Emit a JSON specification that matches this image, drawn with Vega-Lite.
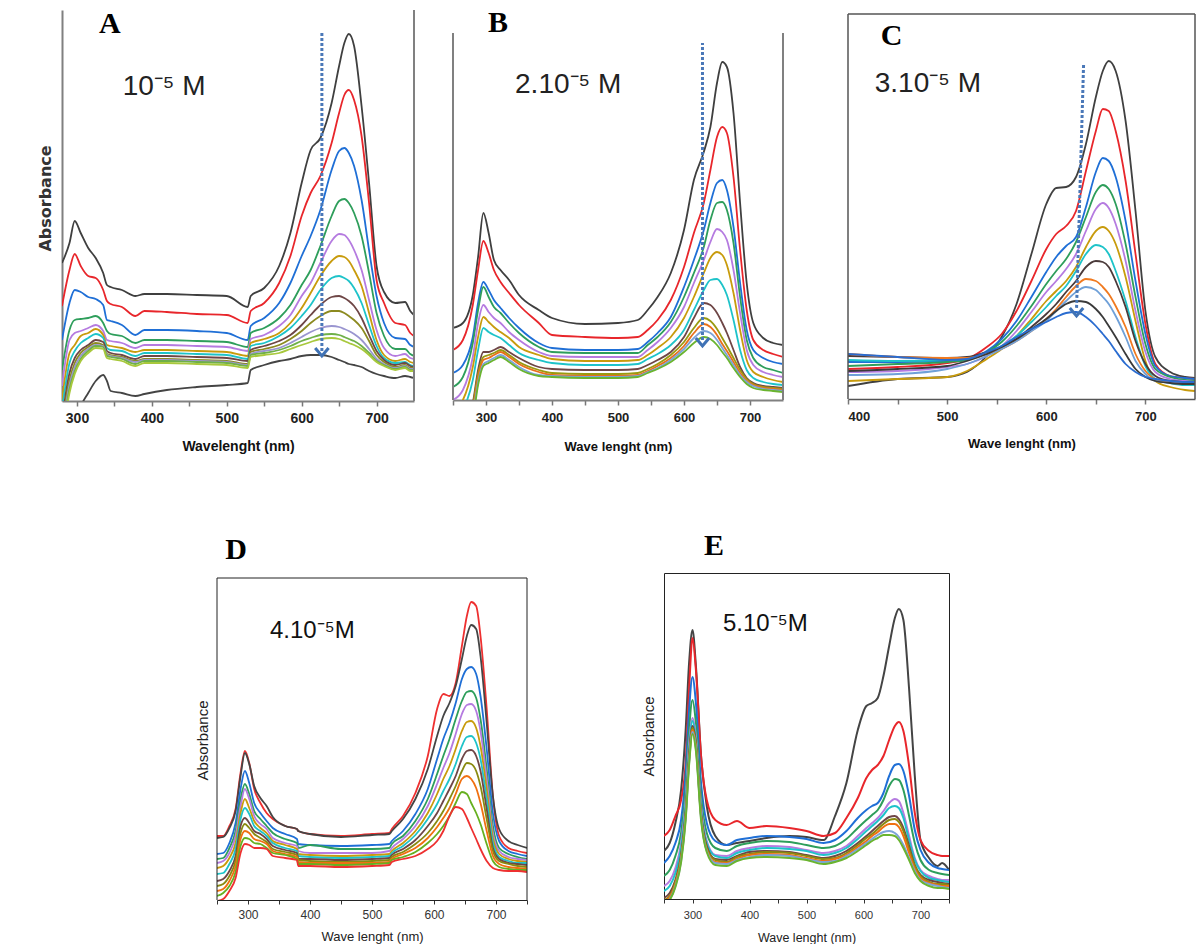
{
"$schema": "https://vega.github.io/schema/vega-lite/v6.json",
"padding": {"left": 0, "top": 7, "right": 0, "bottom": 0},
"background": "white",
"spacing": 563,
"bounds": "flush",
"resolve": {"scale": {"color": "independent"}},
"config": {"view": {"stroke": null}, "axis": {"grid": false, "labelOverlap": false}},
"datasets": {
"A": [
{"w":280,"a":1.38,"b":0.95,"c":0.61,"d":0.31,"e":0.15,"f":0.01,"g":-0.09,"h":-0.19,"i":-0.25,"j":-0.3,"k":-0.35,"l":-0.4,"m":-0.6},
{"w":290,"a":1.58,"b":1.31,"c":0.98,"d":0.71,"e":0.61,"f":0.48,"g":0.38,"h":0.28,"i":0.21,"j":0.16,"k":0.12,"l":0.08,"m":-0.4},
{"w":297,"a":1.80,"b":1.47,"c":1.11,"d":0.81,"e":0.68,"f":0.56,"g":0.50,"h":0.43,"i":0.38,"j":0.34,"k":0.30,"l":0.27,"m":-0.2},
{"w":305,"a":1.68,"b":1.35,"c":1.09,"d":0.82,"e":0.70,"f":0.65,"g":0.58,"h":0.51,"i":0.48,"j":0.45,"k":0.42,"l":0.40,"m":-0.05},
{"w":315,"a":1.53,"b":1.25,"c":1.04,"d":0.83,"e":0.73,"f":0.68,"g":0.63,"h":0.56,"i":0.54,"j":0.52,"k":0.50,"l":0.48,"m":0.08},
{"w":325,"a":1.43,"b":1.23,"c":1.02,"d":0.85,"e":0.76,"f":0.72,"g":0.67,"h":0.61,"i":0.58,"j":0.56,"k":0.55,"l":0.53,"m":0.20},
{"w":335,"a":1.28,"b":1.11,"c":0.96,"d":0.78,"e":0.70,"f":0.66,"g":0.63,"h":0.59,"i":0.56,"j":0.55,"k":0.54,"l":0.52,"m":0.26},
{"w":340,"a":1.16,"b":1.00,"c":0.81,"d":0.70,"e":0.61,"f":0.56,"g":0.53,"h":0.50,"i":0.47,"j":0.46,"k":0.45,"l":0.43,"m":0.20},
{"w":345,"a":1.14,"b":0.97,"c":0.80,"d":0.67,"e":0.60,"f":0.55,"g":0.51,"h":0.48,"i":0.46,"j":0.45,"k":0.44,"l":0.42,"m":0.10},
{"w":360,"a":1.11,"b":0.94,"c":0.76,"d":0.65,"e":0.58,"f":0.53,"g":0.50,"h":0.46,"i":0.44,"j":0.43,"k":0.42,"l":0.40,"m":0.08},
{"w":378,"a":1.05,"b":0.85,"c":0.66,"d":0.58,"e":0.53,"f":0.49,"g":0.45,"h":0.42,"i":0.40,"j":0.39,"k":0.37,"l":0.35,"m":0.05},
{"w":390,"a":1.07,"b":0.90,"c":0.71,"d":0.61,"e":0.56,"f":0.51,"g":0.48,"h":0.45,"i":0.42,"j":0.41,"k":0.40,"l":0.38,"m":0.07},
{"w":420,"a":1.07,"b":0.89,"c":0.71,"d":0.61,"e":0.56,"f":0.51,"g":0.48,"h":0.45,"i":0.42,"j":0.41,"k":0.40,"l":0.38,"m":0.11},
{"w":460,"a":1.06,"b":0.87,"c":0.70,"d":0.60,"e":0.55,"f":0.50,"g":0.47,"h":0.44,"i":0.41,"j":0.40,"k":0.39,"l":0.37,"m":0.14},
{"w":500,"a":1.05,"b":0.86,"c":0.68,"d":0.59,"e":0.54,"f":0.49,"g":0.46,"h":0.43,"i":0.40,"j":0.39,"k":0.38,"l":0.36,"m":0.16},
{"w":528,"a":0.94,"b":0.78,"c":0.61,"d":0.54,"e":0.50,"f":0.45,"g":0.42,"h":0.40,"i":0.37,"j":0.36,"k":0.35,"l":0.33,"m":0.18},
{"w":532,"a":1.05,"b":0.90,"c":0.75,"d":0.68,"e":0.62,"f":0.58,"g":0.55,"h":0.51,"i":0.49,"j":0.47,"k":0.46,"l":0.44,"m":0.31},
{"w":550,"a":1.13,"b":0.98,"c":0.83,"d":0.73,"e":0.66,"f":0.62,"g":0.58,"h":0.55,"i":0.52,"j":0.50,"k":0.48,"l":0.46,"m":0.36},
{"w":570,"a":1.35,"b":1.18,"c":0.98,"d":0.83,"e":0.75,"f":0.68,"g":0.65,"h":0.60,"i":0.56,"j":0.53,"k":0.51,"l":0.48,"m":0.40},
{"w":585,"a":1.68,"b":1.45,"c":1.18,"d":0.96,"e":0.86,"f":0.78,"g":0.73,"h":0.66,"i":0.62,"j":0.58,"k":0.55,"l":0.52,"m":0.42},
{"w":600,"a":2.18,"b":1.85,"c":1.45,"d":1.16,"e":1.05,"f":0.93,"g":0.85,"h":0.76,"i":0.70,"j":0.64,"k":0.60,"l":0.56,"m":0.45},
{"w":612,"a":2.51,"b":2.08,"c":1.65,"d":1.31,"e":1.18,"f":1.08,"g":0.96,"h":0.86,"i":0.78,"j":0.69,"k":0.63,"l":0.59,"m":0.46},
{"w":625,"a":2.63,"b":2.25,"c":1.91,"d":1.55,"e":1.38,"f":1.25,"g":1.11,"h":0.96,"i":0.85,"j":0.73,"k":0.66,"l":0.62,"m":0.46},
{"w":640,"a":2.98,"b":2.58,"c":2.31,"d":1.85,"e":1.60,"f":1.40,"g":1.23,"h":1.04,"i":0.90,"j":0.75,"k":0.67,"l":0.63,"m":0.44},
{"w":650,"a":3.35,"b":2.88,"c":2.50,"d":2.00,"e":1.67,"f":1.45,"g":1.25,"h":1.05,"i":0.90,"j":0.74,"k":0.66,"l":0.62,"m":0.41},
{"w":657,"a":3.58,"b":3.06,"c":2.53,"d":2.02,"e":1.66,"f":1.44,"g":1.23,"h":1.03,"i":0.88,"j":0.72,"k":0.64,"l":0.60,"m":0.39},
{"w":663,"a":3.67,"b":3.11,"c":2.48,"d":1.98,"e":1.61,"f":1.40,"g":1.20,"h":1.00,"i":0.85,"j":0.70,"k":0.62,"l":0.58,"m":0.37},
{"w":670,"a":3.55,"b":3.01,"c":2.35,"d":1.88,"e":1.51,"f":1.31,"g":1.13,"h":0.95,"i":0.81,"j":0.67,"k":0.60,"l":0.56,"m":0.36},
{"w":680,"a":2.95,"b":2.65,"c":2.01,"d":1.65,"e":1.31,"f":1.15,"g":0.98,"h":0.83,"i":0.73,"j":0.61,"k":0.55,"l":0.52,"m":0.34},
{"w":690,"a":2.18,"b":1.98,"c":1.51,"d":1.28,"e":1.01,"f":0.88,"g":0.76,"h":0.66,"i":0.60,"j":0.52,"k":0.48,"l":0.46,"m":0.30},
{"w":700,"a":1.35,"b":1.21,"c":1.05,"d":0.88,"e":0.71,"f":0.61,"g":0.55,"h":0.50,"i":0.46,"j":0.42,"k":0.40,"l":0.39,"m":0.27},
{"w":710,"a":1.09,"b":0.98,"c":0.78,"d":0.65,"e":0.53,"f":0.46,"g":0.43,"h":0.41,"i":0.39,"j":0.37,"k":0.36,"l":0.35,"m":0.25},
{"w":725,"a":0.98,"b":0.78,"c":0.63,"d":0.52,"e":0.45,"f":0.40,"g":0.38,"h":0.36,"i":0.34,"j":0.33,"k":0.32,"l":0.31,"m":0.23},
{"w":738,"a":0.99,"b":0.76,"c":0.62,"d":0.52,"e":0.47,"f":0.42,"g":0.39,"h":0.38,"i":0.36,"j":0.35,"k":0.34,"l":0.33,"m":0.25},
{"w":745,"a":0.90,"b":0.68,"c":0.56,"d":0.47,"e":0.43,"f":0.39,"g":0.36,"h":0.35,"i":0.33,"j":0.32,"k":0.31,"l":0.30,"m":0.24},
{"w":750,"a":0.86,"b":0.65,"c":0.54,"d":0.45,"e":0.42,"f":0.38,"g":0.35,"h":0.34,"i":0.33,"j":0.32,"k":0.31,"l":0.30,"m":0.23}
],
"B": [
{"w":250,"a":0.72,"b":0.50,"c":0.27,"d":0.13,"e":0.00,"f":-0.10,"g":-0.20,"h":-0.37,"i":-0.40,"j":-0.45,"k":-0.50,"l":-0.55},
{"w":265,"a":0.77,"b":0.60,"c":0.35,"d":0.23,"e":0.10,"f":0.00,"g":-0.10,"h":-0.27,"i":-0.30,"j":-0.35,"k":-0.40,"l":-0.45},
{"w":280,"a":1.05,"b":0.95,"c":0.63,"d":0.57,"e":0.43,"f":0.33,"g":0.20,"h":-0.03,"i":-0.06,"j":-0.10,"k":-0.15,"l":-0.20},
{"w":288,"a":1.43,"b":1.30,"c":0.97,"d":0.90,"e":0.77,"f":0.63,"g":0.50,"h":0.30,"i":0.26,"j":0.22,"k":0.18,"l":0.15},
{"w":296,"a":1.87,"b":1.59,"c":1.18,"d":1.13,"e":0.95,"f":0.83,"g":0.72,"h":0.48,"i":0.43,"j":0.40,"k":0.36,"l":0.34},
{"w":304,"a":1.67,"b":1.47,"c":1.10,"d":1.03,"e":0.88,"f":0.78,"g":0.68,"h":0.48,"i":0.45,"j":0.42,"k":0.39,"l":0.37},
{"w":312,"a":1.40,"b":1.30,"c":1.00,"d":0.93,"e":0.82,"f":0.73,"g":0.65,"h":0.50,"i":0.47,"j":0.45,"k":0.42,"l":0.40},
{"w":322,"a":1.30,"b":1.18,"c":0.92,"d":0.87,"e":0.77,"f":0.68,"g":0.62,"h":0.53,"i":0.50,"j":0.48,"k":0.45,"l":0.43},
{"w":335,"a":1.20,"b":1.07,"c":0.82,"d":0.77,"e":0.68,"f":0.62,"g":0.55,"h":0.48,"i":0.45,"j":0.43,"k":0.40,"l":0.38},
{"w":350,"a":1.05,"b":0.95,"c":0.72,"d":0.67,"e":0.60,"f":0.53,"g":0.47,"h":0.42,"i":0.38,"j":0.36,"k":0.33,"l":0.31},
{"w":380,"a":0.90,"b":0.77,"c":0.57,"d":0.53,"e":0.48,"f":0.45,"g":0.40,"h":0.33,"i":0.30,"j":0.28,"k":0.25,"l":0.24},
{"w":400,"a":0.82,"b":0.65,"c":0.52,"d":0.48,"e":0.44,"f":0.41,"g":0.37,"h":0.31,"i":0.27,"j":0.25,"k":0.24,"l":0.23},
{"w":450,"a":0.76,"b":0.63,"c":0.50,"d":0.47,"e":0.43,"f":0.39,"g":0.35,"h":0.30,"i":0.26,"j":0.24,"k":0.23,"l":0.22},
{"w":500,"a":0.77,"b":0.62,"c":0.50,"d":0.47,"e":0.43,"f":0.39,"g":0.35,"h":0.30,"i":0.26,"j":0.24,"k":0.23,"l":0.22},
{"w":530,"a":0.80,"b":0.63,"c":0.51,"d":0.47,"e":0.43,"f":0.40,"g":0.36,"h":0.31,"i":0.27,"j":0.25,"k":0.24,"l":0.23},
{"w":545,"a":0.90,"b":0.70,"c":0.58,"d":0.55,"e":0.50,"f":0.45,"g":0.41,"h":0.35,"i":0.31,"j":0.29,"k":0.28,"l":0.27},
{"w":560,"a":1.03,"b":0.80,"c":0.67,"d":0.63,"e":0.58,"f":0.52,"g":0.46,"h":0.40,"i":0.36,"j":0.34,"k":0.32,"l":0.31},
{"w":580,"a":1.27,"b":1.00,"c":0.83,"d":0.78,"e":0.72,"f":0.63,"g":0.55,"h":0.48,"i":0.45,"j":0.42,"k":0.40,"l":0.38},
{"w":600,"a":1.70,"b":1.33,"c":1.13,"d":1.03,"e":0.93,"f":0.82,"g":0.70,"h":0.63,"i":0.58,"j":0.54,"k":0.51,"l":0.48},
{"w":615,"a":2.20,"b":1.67,"c":1.40,"d":1.27,"e":1.17,"f":1.03,"g":0.90,"h":0.82,"i":0.72,"j":0.67,"k":0.62,"l":0.57},
{"w":630,"a":2.48,"b":1.97,"c":1.70,"d":1.53,"e":1.40,"f":1.27,"g":1.10,"h":0.97,"i":0.82,"j":0.76,"k":0.69,"l":0.63},
{"w":640,"a":2.73,"b":2.30,"c":1.97,"d":1.80,"e":1.58,"f":1.42,"g":1.20,"h":0.95,"i":0.79,"j":0.73,"k":0.67,"l":0.61},
{"w":650,"a":3.17,"b":2.63,"c":2.17,"d":1.97,"e":1.71,"f":1.48,"g":1.21,"h":0.87,"i":0.71,"j":0.65,"k":0.60,"l":0.55},
{"w":658,"a":3.38,"b":2.73,"c":2.20,"d":1.98,"e":1.68,"f":1.45,"g":1.15,"h":0.77,"i":0.62,"j":0.56,"k":0.52,"l":0.48},
{"w":665,"a":3.33,"b":2.67,"c":2.10,"d":1.90,"e":1.60,"f":1.35,"g":1.05,"h":0.67,"i":0.54,"j":0.49,"k":0.45,"l":0.42},
{"w":675,"a":2.87,"b":2.23,"c":1.73,"d":1.57,"e":1.30,"f":1.07,"g":0.80,"h":0.50,"i":0.42,"j":0.38,"k":0.35,"l":0.32},
{"w":685,"a":1.97,"b":1.50,"c":1.17,"d":1.03,"e":0.87,"f":0.70,"g":0.50,"h":0.33,"i":0.30,"j":0.27,"k":0.25,"l":0.23},
{"w":695,"a":1.17,"b":0.90,"c":0.70,"d":0.60,"e":0.50,"f":0.40,"g":0.30,"h":0.22,"i":0.21,"j":0.19,"k":0.18,"l":0.16},
{"w":705,"a":0.77,"b":0.60,"c":0.50,"d":0.42,"e":0.35,"f":0.28,"g":0.22,"h":0.17,"i":0.16,"j":0.15,"k":0.14,"l":0.12},
{"w":720,"a":0.62,"b":0.50,"c":0.42,"d":0.33,"e":0.28,"f":0.23,"g":0.18,"h":0.14,"i":0.13,"j":0.12,"k":0.11,"l":0.10},
{"w":735,"a":0.57,"b":0.46,"c":0.38,"d":0.30,"e":0.25,"f":0.20,"g":0.16,"h":0.13,"i":0.12,"j":0.11,"k":0.10,"l":0.09},
{"w":750,"a":0.55,"b":0.43,"c":0.36,"d":0.27,"e":0.23,"f":0.18,"g":0.15,"h":0.12,"i":0.11,"j":0.10,"k":0.09,"l":0.08}
],
"C": [
{"w":400,"a":0.13,"b":0.30,"c":0.37,"d":0.33,"e":0.27,"f":0.18,"g":0.39,"h":0.43,"i":0.45,"j":0.24,"k":0.28,"l":0.45},
{"w":450,"a":0.20,"b":0.32,"c":0.37,"d":0.35,"e":0.28,"f":0.20,"g":0.38,"h":0.42,"i":0.42,"j":0.25,"k":0.30,"l":0.42},
{"w":500,"a":0.22,"b":0.36,"c":0.38,"d":0.37,"e":0.32,"f":0.22,"g":0.39,"h":0.41,"i":0.41,"j":0.30,"k":0.33,"l":0.39},
{"w":520,"a":0.27,"b":0.40,"c":0.40,"d":0.39,"e":0.35,"f":0.28,"g":0.41,"h":0.42,"i":0.41,"j":0.35,"k":0.38,"l":0.40},
{"w":540,"a":0.43,"b":0.52,"c":0.48,"d":0.47,"e":0.43,"f":0.40,"g":0.47,"h":0.47,"i":0.45,"j":0.43,"k":0.45,"l":0.47},
{"w":555,"a":0.62,"b":0.65,"c":0.60,"d":0.57,"e":0.53,"f":0.50,"g":0.53,"h":0.52,"i":0.50,"j":0.50,"k":0.52,"l":0.53},
{"w":570,"a":0.95,"b":0.88,"c":0.78,"d":0.73,"e":0.68,"f":0.63,"g":0.63,"h":0.60,"i":0.58,"j":0.58,"k":0.60,"l":0.62},
{"w":585,"a":1.45,"b":1.18,"c":1.02,"d":0.93,"e":0.87,"f":0.80,"g":0.77,"h":0.72,"i":0.68,"j":0.68,"k":0.70,"l":0.70},
{"w":600,"a":1.95,"b":1.50,"c":1.27,"d":1.15,"e":1.07,"f":0.98,"g":0.92,"h":0.85,"i":0.80,"j":0.78,"k":0.80,"l":0.77},
{"w":610,"a":2.11,"b":1.65,"c":1.42,"d":1.28,"e":1.18,"f":1.08,"g":1.03,"h":0.95,"i":0.90,"j":0.88,"k":0.88,"l":0.82},
{"w":620,"a":2.12,"b":1.73,"c":1.53,"d":1.40,"e":1.30,"f":1.18,"g":1.13,"h":1.07,"i":1.02,"j":0.98,"k":0.95,"l":0.86},
{"w":630,"a":2.22,"b":1.88,"c":1.62,"d":1.57,"e":1.45,"f":1.32,"g":1.28,"h":1.18,"i":1.13,"j":1.07,"k":0.98,"l":0.87},
{"w":640,"a":2.55,"b":2.28,"c":1.92,"d":1.82,"e":1.68,"f":1.52,"g":1.45,"h":1.32,"i":1.20,"j":1.12,"k":0.97,"l":0.82},
{"w":650,"a":3.02,"b":2.68,"c":2.27,"d":2.07,"e":1.90,"f":1.68,"g":1.54,"h":1.38,"i":1.18,"j":1.09,"k":0.90,"l":0.73},
{"w":657,"a":3.28,"b":2.90,"c":2.41,"d":2.14,"e":1.96,"f":1.72,"g":1.52,"h":1.37,"i":1.12,"j":1.02,"k":0.82,"l":0.65},
{"w":663,"a":3.38,"b":2.88,"c":2.38,"d":2.10,"e":1.91,"f":1.68,"g":1.45,"h":1.32,"i":1.05,"j":0.95,"k":0.73,"l":0.58},
{"w":670,"a":3.28,"b":2.68,"c":2.22,"d":1.95,"e":1.75,"f":1.55,"g":1.28,"h":1.18,"i":0.93,"j":0.83,"k":0.62,"l":0.48},
{"w":680,"a":2.78,"b":2.18,"c":1.78,"d":1.55,"e":1.38,"f":1.22,"g":0.98,"h":0.92,"i":0.72,"j":0.62,"k":0.45,"l":0.35},
{"w":690,"a":1.88,"b":1.45,"c":1.18,"d":1.02,"e":0.88,"f":0.78,"g":0.62,"h":0.58,"i":0.45,"j":0.38,"k":0.30,"l":0.27},
{"w":700,"a":0.88,"b":0.75,"c":0.65,"d":0.55,"e":0.47,"f":0.38,"g":0.33,"h":0.35,"i":0.28,"j":0.25,"k":0.22,"l":0.22},
{"w":710,"a":0.42,"b":0.35,"c":0.33,"d":0.30,"e":0.27,"f":0.18,"g":0.20,"h":0.23,"i":0.20,"j":0.18,"k":0.18,"l":0.20},
{"w":725,"a":0.27,"b":0.23,"c":0.23,"d":0.22,"e":0.20,"f":0.12,"g":0.16,"h":0.18,"i":0.17,"j":0.16,"k":0.16,"l":0.18},
{"w":740,"a":0.22,"b":0.21,"c":0.21,"d":0.19,"e":0.18,"f":0.09,"g":0.14,"h":0.17,"i":0.16,"j":0.15,"k":0.15,"l":0.17},
{"w":750,"a":0.21,"b":0.20,"c":0.20,"d":0.18,"e":0.17,"f":0.08,"g":0.14,"h":0.16,"i":0.15,"j":0.15,"k":0.15,"l":0.17}
],
"D": [
{"w":250,"a":0.64,"b":0.62,"c":0.46,"d":0.41,"e":0.37,"f":0.32,"g":0.26,"h":0.19,"i":0.14,"j":0.09,"k":0.04,"l":-0.01},
{"w":260,"a":0.64,"b":0.63,"c":0.47,"d":0.42,"e":0.39,"f":0.34,"g":0.27,"h":0.21,"i":0.16,"j":0.11,"k":0.07,"l":0.01},
{"w":270,"a":0.74,"b":0.72,"c":0.57,"d":0.52,"e":0.47,"f":0.42,"g":0.36,"h":0.29,"i":0.24,"j":0.19,"k":0.14,"l":0.09},
{"w":280,"a":0.91,"b":0.89,"c":0.77,"d":0.69,"e":0.64,"f":0.57,"g":0.51,"h":0.44,"i":0.39,"j":0.34,"k":0.28,"l":0.22},
{"w":288,"a":1.27,"b":1.24,"c":1.11,"d":1.01,"e":0.94,"f":0.87,"g":0.81,"h":0.74,"i":0.67,"j":0.61,"k":0.54,"l":0.47},
{"w":295,"a":1.49,"b":1.47,"c":1.29,"d":1.16,"e":1.11,"f":1.01,"g":0.92,"h":0.82,"i":0.76,"j":0.69,"k":0.62,"l":0.56},
{"w":302,"a":1.37,"b":1.36,"c":1.17,"d":1.06,"e":1.01,"f":0.92,"g":0.86,"h":0.77,"i":0.72,"j":0.67,"k":0.61,"l":0.55},
{"w":310,"a":1.11,"b":1.14,"c":0.97,"d":0.89,"e":0.84,"f":0.79,"g":0.74,"h":0.69,"i":0.66,"j":0.61,"k":0.57,"l":0.52},
{"w":320,"a":0.97,"b":1.02,"c":0.87,"d":0.81,"e":0.76,"f":0.72,"g":0.69,"h":0.66,"i":0.62,"j":0.59,"k":0.56,"l":0.52},
{"w":330,"a":0.87,"b":0.94,"c":0.79,"d":0.74,"e":0.71,"f":0.67,"g":0.64,"h":0.61,"i":0.58,"j":0.56,"k":0.52,"l":0.51},
{"w":340,"a":0.81,"b":0.83,"c":0.72,"d":0.67,"e":0.62,"f":0.59,"g":0.57,"h":0.54,"i":0.51,"j":0.49,"k":0.47,"l":0.44},
{"w":360,"a":0.74,"b":0.74,"c":0.66,"d":0.61,"e":0.57,"f":0.55,"g":0.52,"h":0.50,"i":0.48,"j":0.46,"k":0.45,"l":0.42},
{"w":379,"a":0.71,"b":0.71,"c":0.61,"d":0.57,"e":0.54,"f":0.51,"g":0.49,"h":0.47,"i":0.45,"j":0.43,"k":0.41,"l":0.40},
{"w":381,"a":0.69,"b":0.69,"c":0.56,"d":0.52,"e":0.49,"f":0.46,"g":0.44,"h":0.41,"i":0.40,"j":0.38,"k":0.36,"l":0.34},
{"w":400,"a":0.66,"b":0.66,"c":0.55,"d":0.55,"e":0.47,"f":0.45,"g":0.43,"h":0.41,"i":0.39,"j":0.37,"k":0.36,"l":0.34},
{"w":450,"a":0.64,"b":0.63,"c":0.54,"d":0.51,"e":0.47,"f":0.44,"g":0.42,"h":0.40,"i":0.38,"j":0.37,"k":0.35,"l":0.33},
{"w":500,"a":0.66,"b":0.65,"c":0.55,"d":0.51,"e":0.47,"f":0.45,"g":0.43,"h":0.41,"i":0.39,"j":0.37,"k":0.36,"l":0.34},
{"w":528,"a":0.67,"b":0.66,"c":0.56,"d":0.52,"e":0.49,"f":0.46,"g":0.44,"h":0.42,"i":0.40,"j":0.38,"k":0.37,"l":0.35},
{"w":532,"a":0.71,"b":0.69,"c":0.59,"d":0.56,"e":0.52,"f":0.49,"g":0.47,"h":0.45,"i":0.43,"j":0.41,"k":0.40,"l":0.38},
{"w":550,"a":0.84,"b":0.81,"c":0.69,"d":0.64,"e":0.61,"f":0.57,"g":0.54,"h":0.51,"i":0.48,"j":0.46,"k":0.43,"l":0.41},
{"w":570,"a":1.07,"b":1.01,"c":0.86,"d":0.79,"e":0.74,"f":0.69,"g":0.65,"h":0.60,"i":0.56,"j":0.52,"k":0.48,"l":0.44},
{"w":590,"a":1.44,"b":1.31,"c":1.11,"d":1.01,"e":0.94,"f":0.87,"g":0.81,"h":0.74,"i":0.67,"j":0.62,"k":0.57,"l":0.51},
{"w":605,"a":1.91,"b":1.64,"c":1.41,"d":1.26,"e":1.16,"f":1.06,"g":0.96,"h":0.87,"i":0.79,"j":0.73,"k":0.66,"l":0.59},
{"w":615,"a":2.06,"b":1.84,"c":1.61,"d":1.44,"e":1.32,"f":1.21,"g":1.09,"h":0.99,"i":0.89,"j":0.82,"k":0.74,"l":0.69},
{"w":625,"a":2.04,"b":1.97,"c":1.77,"d":1.61,"e":1.47,"f":1.34,"g":1.21,"h":1.11,"i":1.01,"j":0.92,"k":0.84,"l":0.84},
{"w":635,"a":2.17,"b":2.14,"c":1.97,"d":1.81,"e":1.66,"f":1.51,"g":1.36,"h":1.24,"i":1.14,"j":1.06,"k":0.97,"l":0.93},
{"w":645,"a":2.54,"b":2.41,"c":2.21,"d":1.99,"e":1.86,"f":1.69,"g":1.54,"h":1.41,"i":1.29,"j":1.21,"k":1.08,"l":0.91},
{"w":653,"a":2.84,"b":2.64,"c":2.31,"d":2.08,"e":1.95,"f":1.78,"g":1.63,"h":1.49,"i":1.37,"j":1.24,"k":1.06,"l":0.82},
{"w":660,"a":2.98,"b":2.75,"c":2.33,"d":2.09,"e":1.96,"f":1.79,"g":1.64,"h":1.50,"i":1.36,"j":1.21,"k":0.97,"l":0.72},
{"w":668,"a":2.94,"b":2.71,"c":2.26,"d":2.02,"e":1.89,"f":1.72,"g":1.57,"h":1.44,"i":1.29,"j":1.12,"k":0.87,"l":0.61},
{"w":675,"a":2.64,"b":2.44,"c":2.04,"d":1.81,"e":1.69,"f":1.54,"g":1.41,"h":1.29,"i":1.14,"j":0.97,"k":0.76,"l":0.51},
{"w":685,"a":1.91,"b":1.77,"c":1.51,"d":1.31,"e":1.21,"f":1.11,"g":1.01,"h":0.91,"i":0.81,"j":0.69,"k":0.56,"l":0.39},
{"w":695,"a":1.04,"b":1.04,"c":0.87,"d":0.74,"e":0.67,"f":0.62,"g":0.57,"h":0.52,"i":0.49,"j":0.44,"k":0.39,"l":0.32},
{"w":705,"a":0.64,"b":0.71,"c":0.59,"d":0.52,"e":0.49,"f":0.46,"g":0.43,"h":0.41,"i":0.39,"j":0.36,"k":0.33,"l":0.30},
{"w":720,"a":0.52,"b":0.59,"c":0.49,"d":0.46,"e":0.43,"f":0.41,"g":0.39,"h":0.37,"i":0.36,"j":0.33,"k":0.31,"l":0.29},
{"w":735,"a":0.49,"b":0.55,"c":0.46,"d":0.43,"e":0.41,"f":0.39,"g":0.37,"h":0.36,"i":0.34,"j":0.32,"k":0.30,"l":0.29},
{"w":750,"a":0.47,"b":0.52,"c":0.44,"d":0.41,"e":0.40,"f":0.38,"g":0.37,"h":0.35,"i":0.33,"j":0.31,"k":0.30,"l":0.28}
],
"E": [
{"w":250,"a":0.48,"b":0.63,"c":0.36,"d":0.23,"e":0.13,"f":0.08,"g":0.01,"h":-0.01,"i":-0.02,"j":-0.04,"k":-0.06},
{"w":260,"a":0.56,"b":0.69,"c":0.43,"d":0.29,"e":0.18,"f":0.13,"g":0.06,"h":0.03,"i":0.02,"j":0.00,"k":-0.01},
{"w":270,"a":0.76,"b":0.83,"c":0.56,"d":0.43,"e":0.31,"f":0.26,"g":0.19,"h":0.17,"i":0.15,"j":0.13,"k":0.12},
{"w":280,"a":1.09,"b":0.99,"c":0.79,"d":0.66,"e":0.56,"f":0.51,"g":0.44,"h":0.42,"i":0.40,"j":0.38,"k":0.37},
{"w":288,"a":1.69,"b":1.36,"c":1.26,"d":1.09,"e":0.99,"f":0.94,"g":0.88,"h":0.85,"i":0.83,"j":0.81,"k":0.79},
{"w":294,"a":2.36,"b":2.09,"c":1.89,"d":1.69,"e":1.56,"f":1.49,"g":1.43,"h":1.40,"i":1.38,"j":1.36,"k":1.34},
{"w":300,"a":2.69,"b":2.61,"c":2.22,"d":1.99,"e":1.81,"f":1.78,"g":1.73,"h":1.71,"i":1.69,"j":1.67,"k":1.65},
{"w":306,"a":2.33,"b":2.29,"c":1.96,"d":1.76,"e":1.63,"f":1.59,"g":1.56,"h":1.54,"i":1.52,"j":1.50,"k":1.48},
{"w":315,"a":1.43,"b":1.43,"c":1.16,"d":1.03,"e":0.93,"f":0.89,"g":0.86,"h":0.84,"i":0.83,"j":0.81,"k":0.79},
{"w":325,"a":0.93,"b":0.99,"c":0.76,"d":0.66,"e":0.58,"f":0.56,"g":0.53,"h":0.51,"i":0.49,"j":0.48,"k":0.47},
{"w":340,"a":0.63,"b":0.79,"c":0.58,"d":0.51,"e":0.44,"f":0.43,"g":0.40,"h":0.39,"i":0.37,"j":0.36,"k":0.34},
{"w":360,"a":0.54,"b":0.74,"c":0.54,"d":0.48,"e":0.43,"f":0.41,"g":0.39,"h":0.37,"i":0.36,"j":0.35,"k":0.33},
{"w":378,"a":0.56,"b":0.78,"c":0.59,"d":0.53,"e":0.48,"f":0.46,"g":0.43,"h":0.42,"i":0.40,"j":0.39,"k":0.38},
{"w":400,"a":0.58,"b":0.71,"c":0.61,"d":0.56,"e":0.51,"f":0.49,"g":0.47,"h":0.45,"i":0.44,"j":0.42,"k":0.41},
{"w":430,"a":0.61,"b":0.73,"c":0.63,"d":0.58,"e":0.53,"f":0.51,"g":0.48,"h":0.47,"i":0.45,"j":0.44,"k":0.42},
{"w":470,"a":0.63,"b":0.71,"c":0.62,"d":0.57,"e":0.52,"f":0.50,"g":0.47,"h":0.46,"i":0.44,"j":0.43,"k":0.41},
{"w":500,"a":0.62,"b":0.68,"c":0.60,"d":0.54,"e":0.49,"f":0.48,"g":0.44,"h":0.43,"i":0.41,"j":0.40,"k":0.39},
{"w":530,"a":0.59,"b":0.63,"c":0.56,"d":0.51,"e":0.46,"f":0.44,"g":0.41,"h":0.40,"i":0.38,"j":0.37,"k":0.35},
{"w":550,"a":0.83,"b":0.66,"c":0.59,"d":0.53,"e":0.48,"f":0.46,"g":0.43,"h":0.41,"i":0.40,"j":0.38,"k":0.37},
{"w":570,"a":1.16,"b":0.81,"c":0.68,"d":0.60,"e":0.53,"f":0.51,"g":0.48,"h":0.46,"i":0.44,"j":0.43,"k":0.41},
{"w":590,"a":1.69,"b":1.01,"c":0.81,"d":0.71,"e":0.63,"f":0.60,"g":0.56,"h":0.54,"i":0.52,"j":0.50,"k":0.48},
{"w":605,"a":1.93,"b":1.21,"c":0.89,"d":0.79,"e":0.71,"f":0.68,"g":0.63,"h":0.61,"i":0.58,"j":0.56,"k":0.54},
{"w":615,"a":1.96,"b":1.29,"c":0.93,"d":0.84,"e":0.76,"f":0.73,"g":0.68,"h":0.65,"i":0.63,"j":0.60,"k":0.58},
{"w":625,"a":2.01,"b":1.34,"c":0.96,"d":0.89,"e":0.81,"f":0.78,"g":0.73,"h":0.70,"i":0.67,"j":0.64,"k":0.61},
{"w":635,"a":2.23,"b":1.43,"c":1.06,"d":0.99,"e":0.88,"f":0.84,"g":0.78,"h":0.75,"i":0.72,"j":0.67,"k":0.64},
{"w":645,"a":2.53,"b":1.59,"c":1.23,"d":1.13,"e":0.96,"f":0.91,"g":0.82,"h":0.79,"i":0.75,"j":0.68,"k":0.64},
{"w":655,"a":2.81,"b":1.73,"c":1.34,"d":1.20,"e":1.00,"f":0.93,"g":0.83,"h":0.80,"i":0.75,"j":0.66,"k":0.63},
{"w":662,"a":2.90,"b":1.77,"c":1.35,"d":1.19,"e":0.98,"f":0.91,"g":0.80,"h":0.77,"i":0.72,"j":0.62,"k":0.59},
{"w":670,"a":2.79,"b":1.68,"c":1.28,"d":1.09,"e":0.86,"f":0.81,"g":0.71,"h":0.68,"i":0.63,"j":0.54,"k":0.51},
{"w":680,"a":2.10,"b":1.33,"c":1.03,"d":0.83,"e":0.63,"f":0.59,"g":0.53,"h":0.50,"i":0.46,"j":0.41,"k":0.39},
{"w":690,"a":1.23,"b":0.86,"c":0.69,"d":0.56,"e":0.41,"f":0.39,"g":0.34,"h":0.33,"i":0.30,"j":0.28,"k":0.26},
{"w":700,"a":0.59,"b":0.59,"c":0.49,"d":0.39,"e":0.29,"f":0.28,"g":0.24,"h":0.23,"i":0.21,"j":0.19,"k":0.18},
{"w":715,"a":0.41,"b":0.48,"c":0.36,"d":0.29,"e":0.23,"f":0.21,"g":0.19,"h":0.17,"i":0.16,"j":0.15,"k":0.13},
{"w":730,"a":0.33,"b":0.44,"c":0.31,"d":0.26,"e":0.20,"f":0.19,"g":0.17,"h":0.15,"i":0.14,"j":0.13,"k":0.11},
{"w":738,"a":0.36,"b":0.43,"c":0.30,"d":0.25,"e":0.19,"f":0.18,"g":0.16,"h":0.15,"i":0.13,"j":0.12,"k":0.11},
{"w":750,"a":0.29,"b":0.43,"c":0.29,"d":0.24,"e":0.19,"f":0.17,"g":0.15,"h":0.14,"i":0.13,"j":0.11,"k":0.10}
]
},
"vconcat": [
{
"hconcat": [
{"width": 62, "height": 1, "data": {"values": []}, "mark": "point"},
{
"width": 352, "height": 391,
"layer": [
{"data": {"name": "A"},
 "transform": [{"fold": ["a","b","c","d","e","f","g","h","i","j","k","l","m"], "as": ["curve","abs"]}],
 "mark": {"type": "line", "strokeWidth": 1.8, "interpolate": "monotone", "clip": true},
 "encoding": {
  "x": {"field": "w", "type": "quantitative", "scale": {"domain": [280, 750], "nice": false, "zero": false},
        "axis": {"title": "Wavelenght (nm)", "values": [300,350,400,450,500,550,600,650,700], "tickCount": 40, "labelExpr": "datum.value % 100 === 0 ? datum.label : ''", "format": "d", "labelFont": "Liberation Sans", "labelFontWeight": "bold", "labelFontSize": 14, "labelColor": "#222", "labelPadding": 5, "tickColor": "#777", "tickSize": 5, "tickWidth": 1.5, "domainColor": "#808080", "domainWidth": 2, "titleFont": "Liberation Sans", "titleFontWeight": "bold", "titleFontSize": 14, "titleColor": "#111", "titlePadding": 14}},
  "y": {"field": "abs", "type": "quantitative", "scale": {"domain": [0, 3.91], "nice": false, "zero": false},
        "axis": {"title": "Absorbance", "ticks": false, "labels": false, "domainColor": "#808080", "domainWidth": 2, "titleFont": "DejaVu Sans", "titleFontWeight": "bold", "titleFontSize": 16, "titleColor": "#333", "titlePadding": 9, "titleY": 188}},
  "color": {"field": "curve", "type": "nominal", "legend": null, "scale": {"domain": ["a","b","c","d","e","f","g","h","i","j","k","l","m"], "range": ["#3f3f3f","#e8262b","#1f6fd6","#2e9e5b","#b57be0","#c89b0c","#1ec3c9","#6e4646","#8c8a20","#9a95d0","#6fb048","#a8c83c","#444444"]}}
 }},
{"data": {"values": [{}]}, "mark": {"type": "rule", "color": "#808080", "strokeWidth": 2}, "encoding": {"x": {"datum": 750}, "y": {"datum": 0}, "y2": {"datum": 3.91}}},
{"data": {"values": [{}]}, "mark": {"type": "rule", "color": "#4a78b8", "strokeWidth": 3, "strokeDash": [3, 2]}, "encoding": {"x": {"datum": 627}, "y": {"datum": 0.5}, "y2": {"datum": 3.68}}},
{"data": {"values": [{}]}, "mark": {"type": "point", "shape": "M-1,-0.6L0,0.6L1,-0.6", "filled": false, "size": 180, "strokeWidth": 3, "color": "#3f72b5", "opacity": 1}, "encoding": {"x": {"datum": 627}, "y": {"datum": 0.49}}},
{"data": {"values": [{}]}, "mark": {"type": "text", "text": "A", "font": "Liberation Serif", "fontWeight": "bold", "fontSize": 30, "align": "center", "baseline": "middle", "color": "#000"}, "encoding": {"x": {"datum": 344}, "y": {"datum": 3.77}}},
{"data": {"values": [{}]}, "mark": {"type": "text", "text": "10⁻⁵ M", "font": "Liberation Sans", "fontSize": 28, "align": "left", "baseline": "alphabetic", "color": "#222"}, "encoding": {"x": {"datum": 361}, "y": {"datum": 3.06}}}
]
},
{"width": 39, "height": 1, "data": {"values": []}, "mark": "point"},
{
"width": 330, "height": 390,
"layer": [
{"data": {"name": "B"},
 "transform": [{"fold": ["a","b","c","d","e","f","g","h","i","j","k","l"], "as": ["curve","abs"]}],
 "mark": {"type": "line", "strokeWidth": 1.8, "interpolate": "monotone", "clip": true},
 "encoding": {
  "x": {"field": "w", "type": "quantitative", "scale": {"domain": [250, 750], "nice": false, "zero": false},
        "axis": {"title": "Wave lenght (nm)", "values": [250,300,350,400,450,500,550,600,650,700], "tickCount": 40, "labelExpr": "datum.value % 100 === 0 ? datum.label : ''", "format": "d", "labelFont": "Liberation Sans", "labelFontWeight": "bold", "labelFontSize": 13, "labelColor": "#222", "labelPadding": 6, "tickColor": "#777", "tickSize": 5, "tickWidth": 1.5, "domainColor": "#808080", "domainWidth": 2, "titleFont": "Liberation Sans", "titleFontWeight": "bold", "titleFontSize": 13, "titleColor": "#111", "titlePadding": 16}},
  "y": {"field": "abs", "type": "quantitative", "scale": {"domain": [0, 3.9], "nice": false, "zero": false}, "axis": null},
  "color": {"field": "curve", "type": "nominal", "legend": null, "scale": {"domain": ["a","b","c","d","e","f","g","h","i","j","k","l"], "range": ["#3f3f3f","#e8262b","#1f6fd6","#2e9e5b","#b57be0","#c89b0c","#1ec3c9","#6e4646","#9a9a10","#e8701a","#7da3d8","#6ab42f"]}}
 }},
{"data": {"values": [{}]}, "mark": {"type": "rule", "color": "#808080", "strokeWidth": 2}, "encoding": {"x": {"datum": 250}, "y": {"datum": 0}, "y2": {"datum": 3.67}}},
{"data": {"values": [{}]}, "mark": {"type": "rule", "color": "#808080", "strokeWidth": 2}, "encoding": {"x": {"datum": 750}, "y": {"datum": 0}, "y2": {"datum": 3.67}}},
{"data": {"values": [{}]}, "mark": {"type": "rule", "color": "#4a78b8", "strokeWidth": 3, "strokeDash": [3, 2]}, "encoding": {"x": {"datum": 628}, "y": {"datum": 0.6}, "y2": {"datum": 3.57}}},
{"data": {"values": [{}]}, "mark": {"type": "point", "shape": "M-1,-0.6L0,0.6L1,-0.6", "filled": false, "size": 180, "strokeWidth": 3, "color": "#3f72b5", "opacity": 1}, "encoding": {"x": {"datum": 628}, "y": {"datum": 0.58}}},
{"data": {"values": [{}]}, "mark": {"type": "text", "text": "B", "font": "Liberation Serif", "fontWeight": "bold", "fontSize": 30, "align": "center", "baseline": "middle", "color": "#000"}, "encoding": {"x": {"datum": 318}, "y": {"datum": 3.77}}},
{"data": {"values": [{}]}, "mark": {"type": "text", "text": "2.10⁻⁵ M", "font": "Liberation Sans", "fontSize": 28, "align": "left", "baseline": "alphabetic", "color": "#222"}, "encoding": {"x": {"datum": 344}, "y": {"datum": 3.07}}}
]
},
{"width": 65, "height": 1, "data": {"values": []}, "mark": "point"},
{
"width": 347, "height": 389,
"layer": [
{"data": {"name": "C"},
 "transform": [{"fold": ["a","b","c","d","e","f","g","h","i","j","k","l"], "as": ["curve","abs"]}],
 "mark": {"type": "line", "strokeWidth": 1.8, "interpolate": "monotone", "clip": true},
 "encoding": {
  "x": {"field": "w", "type": "quantitative", "scale": {"domain": [400, 750], "nice": false, "zero": false},
        "axis": {"title": "Wave lenght (nm)", "values": [400,450,500,550,600,650,700], "tickCount": 40, "labelExpr": "datum.value % 100 === 0 ? datum.label : ''", "format": "d", "labelFont": "Liberation Sans", "labelFontWeight": "bold", "labelFontSize": 13, "labelColor": "#222", "labelPadding": 6, "tickColor": "#777", "tickSize": 5, "tickWidth": 1.5, "domainColor": "#555", "domainWidth": 1.5, "titleFont": "Liberation Sans", "titleFontWeight": "bold", "titleFontSize": 13, "titleColor": "#111", "titlePadding": 14}},
  "y": {"field": "abs", "type": "quantitative", "scale": {"domain": [0, 3.89], "nice": false, "zero": false}, "axis": null},
  "color": {"field": "curve", "type": "nominal", "legend": null, "scale": {"domain": ["a","b","c","d","e","f","g","h","i","j","k","l"], "range": ["#404040","#e8262b","#1f6fd6","#2e9e5b","#b57be0","#c89b0c","#1ec3c9","#4a3a3a","#f07a20","#6fa0d8","#3a3a3a","#2a6cd0"]}}
 }},
{"data": {"values": [{}]}, "mark": {"type": "rule", "color": "#555", "strokeWidth": 1.5}, "encoding": {"x": {"datum": 400}, "y": {"datum": 0}, "y2": {"datum": 3.85}}},
{"data": {"values": [{}]}, "mark": {"type": "rule", "color": "#555", "strokeWidth": 1.5}, "encoding": {"x": {"datum": 750}, "y": {"datum": 0}, "y2": {"datum": 3.85}}},
{"data": {"values": [{}]}, "mark": {"type": "rule", "color": "#555", "strokeWidth": 1.5}, "encoding": {"x": {"datum": 400}, "x2": {"datum": 750}, "y": {"datum": 3.85}}},
{"data": {"values": [{}]}, "mark": {"type": "rule", "color": "#4a78b8", "strokeWidth": 3, "strokeDash": [3, 2]}, "encoding": {"x": {"datum": 637.6}, "y": {"datum": 3.34}, "x2": {"datum": 630.5}, "y2": {"datum": 0.9}}},
{"data": {"values": [{}]}, "mark": {"type": "point", "shape": "M-1,-0.6L0,0.6L1,-0.6", "filled": false, "size": 180, "strokeWidth": 3, "color": "#3f72b5", "opacity": 1}, "encoding": {"x": {"datum": 630.5}, "y": {"datum": 0.87}}},
{"data": {"values": [{}]}, "mark": {"type": "text", "text": "C", "font": "Liberation Serif", "fontWeight": "bold", "fontSize": 30, "align": "center", "baseline": "middle", "color": "#000"}, "encoding": {"x": {"datum": 444}, "y": {"datum": 3.63}}},
{"data": {"values": [{}]}, "mark": {"type": "text", "text": "3.10⁻⁵ M", "font": "Liberation Sans", "fontSize": 28, "align": "left", "baseline": "alphabetic", "color": "#222"}, "encoding": {"x": {"datum": 427}, "y": {"datum": 3.07}}}
]
}
],
"spacing": 0,
"bounds": "flush",
"resolve": {"scale": {"color": "independent"}}
},
{
"hconcat": [
{"width": 217, "height": 1, "data": {"values": []}, "mark": "point"},
{
"width": 310, "height": 327,
"layer": [
{"data": {"name": "D"},
 "transform": [{"fold": ["a","b","c","d","e","f","g","h","i","j","k","l"], "as": ["curve","abs"]}],
 "mark": {"type": "line", "strokeWidth": 1.8, "interpolate": "monotone", "clip": true},
 "encoding": {
  "x": {"field": "w", "type": "quantitative", "scale": {"domain": [250, 750], "nice": false, "zero": false},
        "axis": {"title": "Wave lenght (nm)", "values": [250,300,350,400,450,500,550,600,650,700,750], "tickCount": 40, "labelExpr": "datum.value % 100 === 0 ? datum.label : ''", "format": "d", "labelFont": "Liberation Sans", "labelFontSize": 12, "labelColor": "#333", "labelPadding": 5, "tickColor": "#333", "tickSize": 4, "tickWidth": 1, "domainColor": "#222", "domainWidth": 1, "titleFont": "Liberation Sans", "titleFontWeight": "normal", "titleFontSize": 13, "titleColor": "#222", "titlePadding": 10}},
  "y": {"field": "abs", "type": "quantitative", "scale": {"domain": [0, 3.27], "nice": false, "zero": false},
        "axis": {"title": "Absorbance", "ticks": false, "labels": false, "domain": false, "titleFont": "Liberation Sans", "titleFontWeight": "normal", "titleFontSize": 15, "titleColor": "#222", "titlePadding": 7, "titleY": 167}},
  "color": {"field": "curve", "type": "nominal", "legend": null, "scale": {"domain": ["a","b","c","d","e","f","g","h","i","j","k","l"], "range": ["#ee3030","#454545","#1f6fd6","#2e9e5b","#b57be0","#c89b0c","#1ec3c9","#6e4646","#8a8a10","#f07010","#66b020","#ee3030"]}}
 }},
{"data": {"values": [{}]}, "mark": {"type": "rule", "color": "#222", "strokeWidth": 1}, "encoding": {"x": {"datum": 250}, "y": {"datum": 0}, "y2": {"datum": 3.22}}},
{"data": {"values": [{}]}, "mark": {"type": "rule", "color": "#222", "strokeWidth": 1}, "encoding": {"x": {"datum": 750}, "y": {"datum": 0}, "y2": {"datum": 3.22}}},
{"data": {"values": [{}]}, "mark": {"type": "rule", "color": "#222", "strokeWidth": 1}, "encoding": {"x": {"datum": 250}, "x2": {"datum": 750}, "y": {"datum": 3.22}}},
{"data": {"values": [{}]}, "mark": {"type": "text", "text": "D", "font": "Liberation Serif", "fontWeight": "bold", "fontSize": 30, "align": "center", "baseline": "middle", "color": "#000"}, "encoding": {"x": {"datum": 280.6}, "y": {"datum": 3.5}}},
{"data": {"values": [{}]}, "mark": {"type": "text", "text": "4.10⁻⁵M", "font": "Liberation Sans", "fontSize": 24, "align": "left", "baseline": "alphabetic", "color": "#111"}, "encoding": {"x": {"datum": 335.5}, "y": {"datum": 2.62}}}
]
},
{"width": 137, "height": 1, "data": {"values": []}, "mark": "point"},
{
"width": 285, "height": 326,
"view": {"stroke": "#222", "strokeWidth": 1},
"layer": [
{"data": {"name": "E"},
 "transform": [{"fold": ["a","b","c","d","e","f","g","h","i","j","k"], "as": ["curve","abs"]}],
 "mark": {"type": "line", "strokeWidth": 2, "interpolate": "monotone", "clip": true},
 "encoding": {
  "x": {"field": "w", "type": "quantitative", "scale": {"domain": [250, 750], "nice": false, "zero": false},
        "axis": {"title": "Wave lenght (nm)", "values": [250,300,350,400,450,500,550,600,650,700,750], "tickCount": 40, "labelExpr": "datum.value % 100 === 0 ? datum.label : ''", "format": "d", "labelFont": "Liberation Sans", "labelFontSize": 11, "labelColor": "#333", "labelPadding": 6, "tickColor": "#333", "tickSize": 4, "tickWidth": 1, "domain": false, "titleFont": "Liberation Sans", "titleFontWeight": "normal", "titleFontSize": 12.5, "titleColor": "#222", "titlePadding": 11}},
  "y": {"field": "abs", "type": "quantitative", "scale": {"domain": [0, 3.26], "nice": false, "zero": false},
        "axis": {"title": "Absorbance", "ticks": false, "labels": false, "domain": false, "titleFont": "Liberation Sans", "titleFontWeight": "normal", "titleFontSize": 15, "titleColor": "#222", "titlePadding": 8}},
  "color": {"field": "curve", "type": "nominal", "legend": null, "scale": {"domain": ["a","b","c","d","e","f","g","h","i","j","k"], "range": ["#444444","#e8262b","#1f6fd6","#2e9e5b","#b57be0","#1ec3c9","#6e4646","#8a8a10","#f07010","#7da3d8","#6ab42f"]}}
 }},
{"data": {"values": [{}]}, "mark": {"type": "text", "text": "E", "font": "Liberation Serif", "fontWeight": "bold", "fontSize": 30, "align": "center", "baseline": "middle", "color": "#000"}, "encoding": {"x": {"datum": 337.7}, "y": {"datum": 3.53}}},
{"data": {"values": [{}]}, "mark": {"type": "text", "text": "5.10⁻⁵M", "font": "Liberation Sans", "fontSize": 24, "align": "left", "baseline": "alphabetic", "color": "#111"}, "encoding": {"x": {"datum": 353.5}, "y": {"datum": 2.68}}}
]
}
],
"spacing": 0,
"bounds": "flush",
"resolve": {"scale": {"color": "independent"}}
}
]
}
